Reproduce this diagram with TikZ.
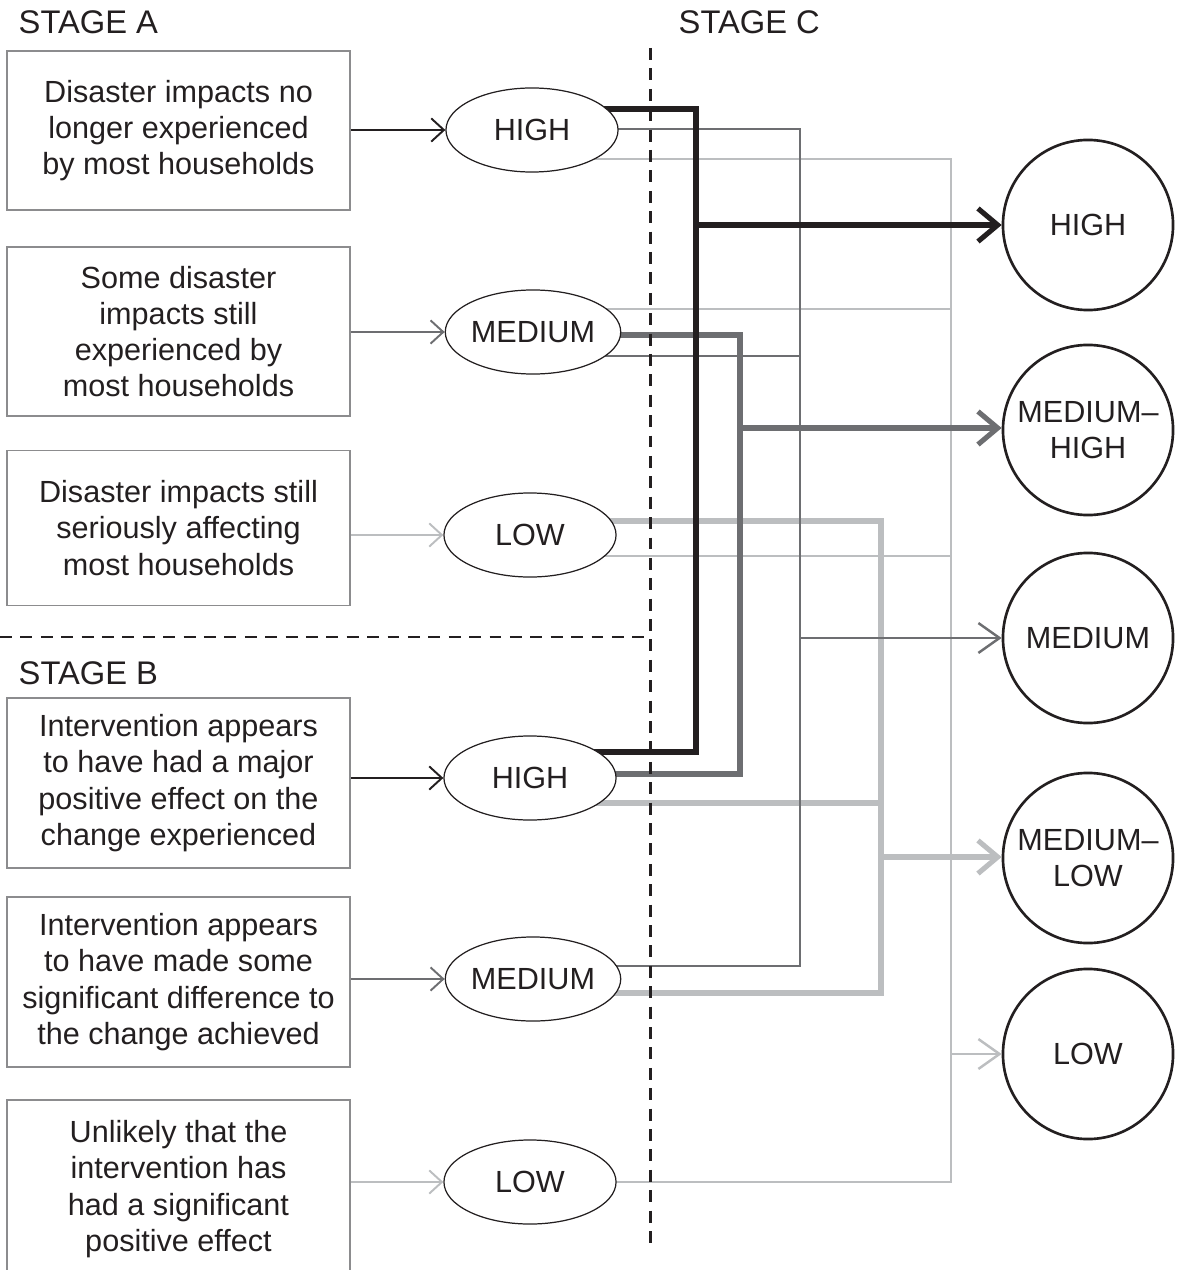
\documentclass[tikz,border=0pt]{standalone}
\usepackage{fontspec}
\setmainfont{Liberation Sans}
\usepackage{tikz}
\usetikzlibrary{arrows.meta}
\usetikzlibrary{shapes,positioning,calc,backgrounds}

\definecolor{inkblack}{HTML}{231F20}
\definecolor{midgray}{HTML}{6D6E71}
\definecolor{palegray}{HTML}{BCBEC0}
\definecolor{boxgray}{HTML}{8C8C8E}

\newcommand{\diagfont}{\fontsize{8.7}{10.3}\selectfont}

\tikzset{
	stagebox/.style={draw=boxgray, line width=0.45pt, minimum width=3.43cm, align=center, inner sep=0pt},
	level/.style={ellipse, draw=inkblack, line width=0.35pt, minimum width=1.72cm, minimum height=0.84cm, fill=white, inner sep=0pt},
	result/.style={circle, draw=inkblack, line width=0.75pt, minimum size=1.7cm, fill=white, align=center, inner sep=0pt},
	feed/.style={-{Straight Barb[length=3.6pt,width=6.6pt]}, line width=0.55pt},
	thinlink/.style={line width=0.7pt},
	thicklink/.style={line width=1.45pt},
	thinhead/.style={-{Straight Barb[length=6pt,width=8.5pt]}},
	thickhead/.style={-{Straight Barb[length=5.6pt,width=9.4pt]}},
	stagelabel/.style={anchor=west, inner sep=0pt, font=\fontsize{9.3}{11}\selectfont},
	divider/.style={dash pattern=on 3.4pt off 2.4pt, line width=0.85pt, inkblack}
}

\begin{document}
\begin{tikzpicture}[x=0.01cm, y=-0.01cm, every node/.style={font=\diagfont, text=inkblack}]
	\useasboundingbox (0,0) rectangle (1176,1270);
	\clip (0,0) rectangle (1176,1270);

	\node[stagelabel] (stA) at (18,22) {STAGE A};
	\node[stagelabel] (stB) at (18,673) {STAGE B};
	\node[stagelabel] (stC) at (678,22) {STAGE C};

	\node[stagebox, minimum height=1.59cm] (a1) at (178.5,130.5) {Disaster impacts no\\longer experienced\\by most households};
	\node[stagebox, minimum height=1.69cm] (a2) at (178.5,331.5) {Some disaster\\impacts still\\experienced by\\most households};
	\node[stagebox, minimum height=1.55cm] (a3) at (178.5,528) {Disaster impacts still\\seriously affecting\\most households};
	\node[stagebox, minimum height=1.70cm] (b1) at (178.5,783) {Intervention appears\\to have had a major\\positive effect on the\\change experienced};
	\node[stagebox, minimum height=1.70cm] (b2) at (178.5,982) {Intervention appears\\to have made some\\significant difference to\\the change achieved};
	\node[stagebox, minimum height=1.78cm] (b3) at (178.5,1189) {Unlikely that the\\intervention has\\had a significant\\positive effect};

	\node[level] (aH) at (532,130) {HIGH};
	\node[level] (aM) at (533,332) {MEDIUM};
	\node[level] (aL) at (530,535) {LOW};
	\node[level] (bH) at (530,778) {HIGH};
	\node[level] (bM) at (533,979) {MEDIUM};
	\node[level] (bL) at (530,1182) {LOW};

	\node[result] (cH) at (1088,225) {HIGH};
	\node[result] (cMH) at (1088,430) {MEDIUM--\\HIGH};
	\node[result] (cM) at (1088,638) {MEDIUM};
	\node[result] (cML) at (1088,858) {MEDIUM--\\LOW};
	\node[result] (cL) at (1088,1054) {LOW};

	\coordinate (jk) at (696,225);
	\coordinate (jmh) at (740,428);
	\coordinate (jm) at (800,638);
	\coordinate (jml) at (881,857);
	\coordinate (jl) at (951,1054);

	\draw[feed, inkblack] (a1.east |- aH.center) -- (aH.west);
	\draw[feed, midgray] (a2.east |- aM.center) -- (aM.west);
	\draw[feed, palegray] (a3.east |- aL.center) -- (aL.west);
	\draw[feed, inkblack] (b1.east |- bH.center) -- (bH.west);
	\draw[feed, midgray] (b2.east |- bM.center) -- (bM.west);
	\draw[feed, palegray] (b3.east |- bL.center) -- (bL.west);

	\begin{scope}[on background layer]
		\draw[thinlink, palegray] ($(aH.center)+(0,29)$) -| (jl) |- (bL.center);
		\draw[thinlink, palegray] ($(aM.center)+(0,-23)$) -| (jl);
		\draw[thinlink, palegray] ($(aL.center)+(0,21)$) -| (jl);
		\draw[thicklink, palegray] ($(aL.center)+(0,-14)$) -| (jml) |- ($(bM.center)+(0,14)$);
		\draw[thicklink, palegray] ($(bH.center)+(0,25)$) -| (jml);
		\draw[thinlink, midgray] ($(aH.center)+(0,-1)$) -| (jm) |- ($(bM.center)+(0,-13)$);
		\draw[thinlink, midgray] ($(aM.center)+(0,24)$) -| (jm);
		\draw[thicklink, midgray] ($(aM.center)+(0,3)$) -| (jmh) |- ($(bH.center)+(0,-4)$);
		\draw[thicklink, inkblack] ($(aH.center)+(0,-21)$) -| (jk) |- ($(bH.center)+(0,-26)$);
	\end{scope}

	\draw[thicklink, thickhead, inkblack] (jk) -- (cH.west);
	\draw[thicklink, thickhead, midgray] (jmh) -- (cMH.west |- jmh);
	\draw[thinlink, thinhead, midgray] (jm) -- (cM.west);
	\draw[thicklink, thickhead, palegray] (jml) -- (cML.west |- jml);
	\draw[thinlink, thinhead, palegray] (jl) -- (cL.west);

	\draw[divider] (650,48) -- (650,1250);
	\draw[divider] (0,637) -- (650,637);
\end{tikzpicture}
\end{document}
